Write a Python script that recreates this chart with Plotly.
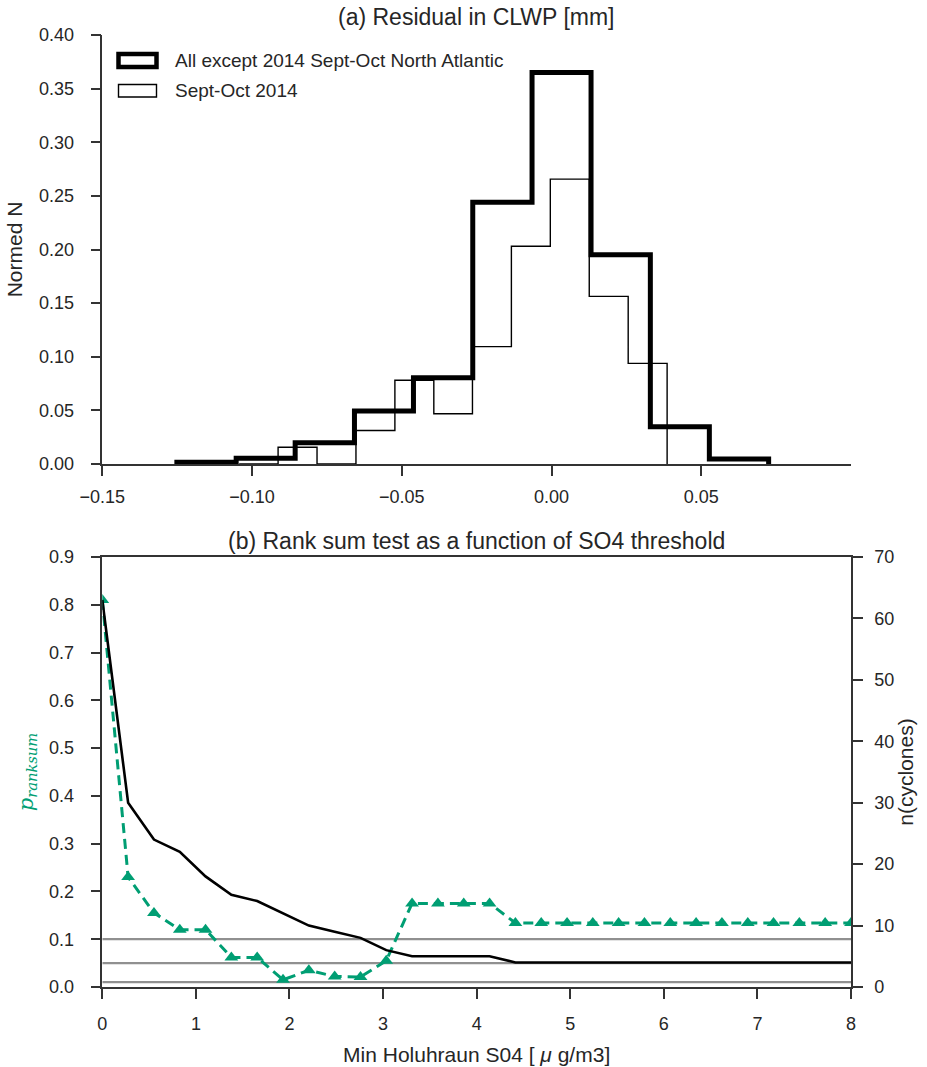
import plotly.graph_objects as go

# ---------------- data ----------------
# (a) step histograms: bin edges and normalised fractions
all_except_edges = [-0.1251, -0.1053, -0.0856, -0.0658, -0.0461, -0.0263,
                    -0.0065, 0.0132, 0.0330, 0.0527, 0.0725]
all_except_frac = [0.0016, 0.0053, 0.0199, 0.0494, 0.0805, 0.244,
                   0.365, 0.195, 0.0348, 0.0047]

sept_oct_edges = [-0.1043, -0.0913, -0.0783, -0.0653, -0.0523, -0.0393,
                  -0.0264, -0.0134, -0.0004, 0.0126, 0.0256, 0.0386]
sept_oct_frac = [0.0, 0.0156, 0.0, 0.0313, 0.0781, 0.0469,
                 0.1094, 0.2031, 0.2656, 0.1563, 0.0938]

hist_xticks = [-0.15, -0.10, -0.05, 0.00, 0.05]
hist_xticklabels = ["\u22120.15", "\u22120.10", "\u22120.05", "0.00", "0.05"]
hist_yticks = [0.0, 0.05, 0.10, 0.15, 0.20, 0.25, 0.30, 0.35, 0.40]
hist_yticklabels = ["0.00", "0.05", "0.10", "0.15", "0.20", "0.25", "0.30", "0.35", "0.40"]

# (b) rank-sum test vs SO4 threshold
so4_threshold = [0.0, 0.276, 0.552, 0.828, 1.103, 1.379, 1.655, 1.931, 2.207, 2.483,
                 2.759, 3.034, 3.310, 3.586, 3.862, 4.138, 4.414, 4.690, 4.966, 5.241,
                 5.517, 5.793, 6.069, 6.345, 6.621, 6.897, 7.172, 7.448, 7.724, 8.0]
p_ranksum = [0.81, 0.23, 0.155, 0.12, 0.12, 0.062, 0.062, 0.015, 0.035, 0.022,
             0.021, 0.055, 0.175, 0.175, 0.175, 0.175, 0.134, 0.134, 0.134, 0.134,
             0.134, 0.134, 0.134, 0.134, 0.134, 0.134, 0.134, 0.134, 0.134, 0.134]
n_cyclones = [63, 30, 24, 22, 18, 15, 14, 12, 10, 9,
              8, 6, 5, 5, 5, 5, 4, 4, 4, 4,
              4, 4, 4, 4, 4, 4, 4, 4, 4, 4]
significance_levels = [0.1, 0.05, 0.01]

# ---------------- styling ----------------
W, H = 927, 1067
TXT = "#262626"
AX = "#333333"
GREEN = "#009E73"
FONT = "Liberation Sans, Arial, sans-serif"


def px_x(p):
    return p / W


def px_y(p):
    return 1 - p / H


def step_xy(edges, vals):
    xs = [edges[0]] + list(edges[:-1]) + [edges[-1]]
    ys = [0] + list(vals) + [0]
    return xs, ys


fig = go.Figure()

# ---- panel (a) ----
for edges, vals, lw in [(sept_oct_edges, sept_oct_frac, 1.4),
                        (all_except_edges, all_except_frac, 5)]:
    xs, ys = step_xy(edges, vals)
    fig.add_trace(go.Scatter(x=xs, y=ys, mode="lines", line=dict(color="black", width=lw, shape="hv"),
                             xaxis="x", yaxis="y", showlegend=False, hoverinfo="skip"))

# ---- panel (b) ----
for lvl in significance_levels:
    fig.add_trace(go.Scatter(x=[so4_threshold[0], so4_threshold[-1]], y=[lvl, lvl], mode="lines",
                             line=dict(color="#909090", width=2.2), xaxis="x2", yaxis="y2",
                             showlegend=False, hoverinfo="skip"))
fig.add_trace(go.Scatter(x=so4_threshold, y=p_ranksum, mode="lines+markers",
                         line=dict(color=GREEN, width=3, dash="10px,6px"),
                         marker=dict(symbol="triangle-up", size=12, color=GREEN),
                         xaxis="x2", yaxis="y2", showlegend=False))
fig.add_trace(go.Scatter(x=so4_threshold, y=n_cyclones, mode="lines",
                         line=dict(color="black", width=2.6),
                         xaxis="x2", yaxis="y3", showlegend=False))

tickfont = dict(family=FONT, size=18, color=TXT)
axis_common = dict(showgrid=False, zeroline=False, showline=True, linecolor=AX, linewidth=1.5,
                   ticks="outside", ticklen=10, tickwidth=1.5, tickcolor=AX, tickfont=tickfont,
                   automargin=False)

fig.update_layout(
    width=W, height=H, autosize=False,
    margin=dict(l=0, r=0, t=0, b=0),
    paper_bgcolor="white", plot_bgcolor="white",
    font=dict(family=FONT, color=TXT),
    showlegend=False,
    xaxis=dict(domain=[px_x(102.3), px_x(851)], range=[-0.15, 0.10], anchor="y",
               tickvals=hist_xticks, ticktext=hist_xticklabels, ticklabelstandoff=6, **axis_common),
    yaxis=dict(domain=[px_y(464), px_y(35)], range=[0, 0.40], anchor="x",
               tickvals=hist_yticks, ticktext=hist_yticklabels, ticklabelstandoff=13,
               title=dict(text="Normed N", font=dict(family=FONT, size=21, color=TXT), standoff=11),
               **axis_common),
    xaxis2=dict(domain=[px_x(102.3), px_x(851)], range=[0, 8], anchor="y2", mirror=True,
                tickvals=list(range(9)), ticklabelstandoff=10,
                title=dict(text="Min Holuhraun S04 [ <i>\u03bc</i> g/m3]",
                           font=dict(family=FONT, size=21, color=TXT), standoff=14),
                **axis_common),
    yaxis2=dict(domain=[px_y(987), px_y(557)], range=[0, 0.9], anchor="x2",
                tickvals=[0.0, 0.1, 0.2, 0.3, 0.4, 0.5, 0.6, 0.7, 0.8, 0.9], tickformat=".1f",
                ticklabelstandoff=13,
                title=dict(text="<i>p</i><sub><i>ranksum</i></sub>",
                           font=dict(family="DejaVu Serif, serif", size=21, color=GREEN), standoff=10),
                **axis_common),
    yaxis3=dict(range=[0, 70], overlaying="y2", side="right", anchor="x2",
                tickvals=[0, 10, 20, 30, 40, 50, 60, 70], ticklabelstandoff=8,
                title=dict(text="n(cyclones)", font=dict(family=FONT, size=21, color=TXT), standoff=2),
                **axis_common),
)

# titles
fig.add_annotation(text="(a) Residual in CLWP [mm]", x=px_x(476.5), y=px_y(17), xref="paper", yref="paper",
                   showarrow=False, font=dict(family=FONT, size=23, color=TXT), xanchor="center", yanchor="middle")
fig.add_annotation(text="(b) Rank sum test as a function of SO4 threshold", x=px_x(476.5), y=px_y(541),
                   xref="paper", yref="paper", showarrow=False,
                   font=dict(family=FONT, size=23, color=TXT), xanchor="center", yanchor="middle")

# legend for panel (a): patch rectangles + labels
legend_items = [("All except 2014 Sept-Oct North Atlantic", 4.5, 54.0, 67.0, 60.5),
                ("Sept-Oct 2014", 1.4, 84.5, 97.0, 90.5)]
for label, lw, y0, y1, yc in legend_items:
    fig.add_shape(type="rect", xref="paper", yref="paper", x0=px_x(118.5), x1=px_x(156.5),
                  y0=px_y(y1), y1=px_y(y0), line=dict(color="black", width=lw), fillcolor="white")
    fig.add_annotation(text=label, x=px_x(172.5), y=px_y(yc), xref="paper", yref="paper", showarrow=False,
                       xanchor="left", yanchor="middle", font=dict(family=FONT, size=19, color=TXT))

fig.write_html("out.html")
